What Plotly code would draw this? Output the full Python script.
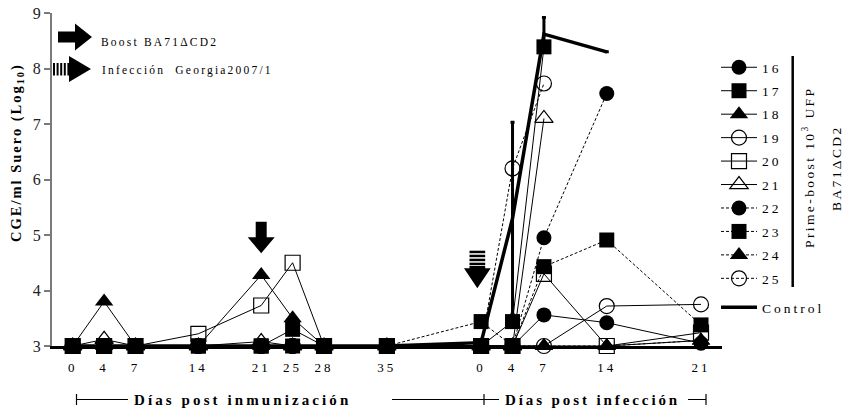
import plotly.graph_objects as go

# ---------------------------------------------------------------- data
# Sampling days of the immunisation phase and of the infection phase
days_immunization = [0, 4, 7, 14, 21, 25, 28, 35]
days_infection = [0, 4, 7, 14, 21]

# Slot of every sampling day on the broken time axis (axis layout)
slots_immunization = [0, 1, 2, 4, 6, 7, 8, 10]
slots_infection = [13, 14, 15, 17, 20]

animals = ["16", "17", "18", "19", "20", "21", "22", "23", "24", "25"]

# log10 genome copies / ml serum; immunisation days then infection days
v16 = [3, 3, 3, 3, 3, 3, 3, 3, 3, 3, 3.56, 3.42, 3.05]
v17 = [3, 3, 3, 3, 3, 3.3, 3, 3, 3, 3.44, 8.39, None, None]
v18 = [3, 3.8, 3, 3, 4.28, 3.5, 3, 3, 3, 3, 3, 3, 3.1]
v19 = [3, 3, 3, 3, 3, 3, 3, 3, 3, 3, 3, 3.72, 3.75]
v20 = [3, 3, 3, 3.22, 3.73, 4.5, 3, 3, 3, 3, 4.3, 3, 3.24]
v21 = [3, 3.12, 3, 3, 3.08, 3, 3, 3, 3, 3, 7.1, None, None]
v22 = [3, 3, 3, 3, 3, 3, 3, 3, 3, 3, 4.95, 7.55, None]
v23 = [3, 3, 3, 3, 3, 3, 3, 3, 3.44, 3, 4.43, 4.91, 3.38]
v24 = [3, 3, 3, 3, 3, 3, 3, 3, 3, 3, 3, 3, 3.1]
v25 = [3, 3, 3, 3, 3, 3, 3, 3, 3, 6.2, 7.73, None, None]
values = [v16, v17, v18, v19, v20, v21, v22, v23, v24, v25]

control_mean = [3, 3, 3, 3, 3, 3, 3, 3, 3.06, 5.3, 8.62, 8.3, None]
control_sd = [None, None, None, None, None, None, None, None, None, 1.73, 0.3, None, None]

# ---------------------------------------------------------------- styling
SERIF = "Liberation Serif"
symbols = ["circle", "square", "triangle-up", "circle-open", "square-open",
           "triangle-up-open", "circle", "square", "triangle-up", "circle-open"]
dashes = ["solid"] * 6 + ["3px,2px"] * 4

# plot area in pixels (used for decorations outside the data)
PL, PR, PT, PB = 52, 722, 13, 346


def px(x):
    return (x - PL) / (PR - PL)


def py(y):
    return (PB - y) / (PB - PT)


def spaced(text, ls):
    return f'<span style="letter-spacing:{ls}px">{text}</span>'


x_all = slots_immunization + slots_infection

fig = go.Figure()

for i, (name, vals) in enumerate(zip(animals, values)):
    sym = symbols[i]
    is_open = sym.endswith("open")
    size = 16 if sym.startswith("triangle") else 15
    fig.add_trace(go.Scatter(
        x=x_all, y=vals, name=spaced(name, 3), mode="lines+markers",
        legendgroup=name,
        line=dict(color="black", width=1, dash=dashes[i]),
        marker=dict(symbol=sym, size=size, color="black",
                    line=dict(color="black", width=1.2 if is_open else 0)),
        cliponaxis=False,
    ))

fig.add_trace(go.Scatter(
    x=x_all, y=control_mean, name=spaced("Control", 3), mode="lines",
    legend="legend2",
    line=dict(color="black", width=3.5),
    error_y=dict(type="data", array=control_sd, visible=True,
                 color="black", thickness=3, width=2),
    cliponaxis=False,
))

tick_vals = x_all
tick_text = [spaced(str(d), 3) for d in days_immunization + days_infection]

fig.update_layout(
    width=845, height=413,
    margin=dict(l=PL, r=845 - PR, t=PT, b=413 - PB, autoexpand=False),
    paper_bgcolor="white", plot_bgcolor="white",
    font=dict(family=SERIF, color="black"),
    showlegend=True,
    xaxis=dict(range=[-0.659, 20.668], showgrid=False, zeroline=False,
               showline=True, linecolor="black", linewidth=2.5,
               tickmode="array", tickvals=tick_vals, ticktext=tick_text,
               ticks="", ticklabelstandoff=8,
               tickfont=dict(family=SERIF, size=13, color="black")),
    yaxis=dict(range=[3, 9], showgrid=False, zeroline=False,
               showline=True, linecolor="#7a7a7a", linewidth=2,
               tickvals=[3, 4, 5, 6, 7, 8, 9], ticks="outside", ticklen=6,
               tickwidth=1.5, tickcolor="#7a7a7a",
               tickfont=dict(family=SERIF, size=16, color="#222")),
    legend=dict(x=px(716), y=py(52), xanchor="left", yanchor="top",
                font=dict(family=SERIF, size=13.5, color="black"),
                tracegroupgap=2.9, itemwidth=36, bgcolor="rgba(0,0,0,0)"),
    legend2=dict(x=px(716), y=py(292), xanchor="left", yanchor="top",
                 font=dict(family=SERIF, size=13.5, color="black"),
                 itemwidth=36, bgcolor="rgba(0,0,0,0)"),
)

shapes = []
annots = []


def label(x, y, text, size, ls, angle=0, xanchor="center", bold=False):
    annots.append(dict(
        x=px(x), y=py(y), xref="paper", yref="paper", textangle=angle,
        xanchor=xanchor, yanchor="middle", showarrow=False,
        text=spaced(text, ls),
        font=dict(family=SERIF, size=size, color="black",
                  weight="bold" if bold else "normal")))


# y-axis title
label(17, 153, "CGE/ml Suero (Log<sub>10</sub>)", 14.5, 2, angle=-90, bold=True)

# brackets below the time axis
yb = 399.5
for x0, x1 in [(76.5, 128), (392, 499), (688, 706)]:
    shapes.append(dict(type="line", xref="paper", yref="paper",
                       x0=px(x0), x1=px(x1), y0=py(yb), y1=py(yb),
                       line=dict(color="black", width=1)))
for xt in [76.5, 484, 706]:
    shapes.append(dict(type="line", xref="paper", yref="paper",
                       x0=px(xt), x1=px(xt), y0=py(yb - 5.5), y1=py(yb + 5.5),
                       line=dict(color="black", width=1.2)))
label(242, 400, "Días post inmunización", 15, 3.1, bold=True)
label(592, 400, "Días post infección", 15, 2.9, bold=True)

# key arrows at the top left
shapes.append(dict(type="path", xref="paper", yref="paper",
                   path=("M{},{} L{},{} L{},{} L{},{} L{},{} L{},{} L{},{} Z".format(
                       px(58), py(31.5), px(75), py(31.5), px(75), py(23.5),
                       px(92), py(37), px(75), py(50.5), px(75), py(42.5),
                       px(58), py(42.5))),
                   fillcolor="black", line=dict(width=0)))
for xs in [53, 56.6, 60.2, 63.8]:
    shapes.append(dict(type="rect", xref="paper", yref="paper",
                       x0=px(xs), x1=px(xs + 2), y0=py(63), y1=py(75.5),
                       fillcolor="black", line=dict(width=0)))
shapes.append(dict(type="path", xref="paper", yref="paper",
                   path=("M{},{} L{},{} L{},{} L{},{} L{},{} L{},{} L{},{} Z".format(
                       px(67.4), py(63), px(69), py(63), px(69), py(56),
                       px(91), py(69), px(69), py(82), px(69), py(75.5),
                       px(67.4), py(75.5))),
                   fillcolor="black", line=dict(width=0)))
label(99, 42, "Boost BA71ΔCD2", 11.5, 2.2, xanchor="left")
label(100, 71, "Infección  Georgia2007/1", 11.5, 2.2, xanchor="left")

# down arrows marking boost and challenge


def down_arrow(xc, top, neck, tip, bw, hw):
    return ("M{},{} L{},{} L{},{} L{},{} L{},{} L{},{} L{},{} Z".format(
        xc - bw, top, xc + bw, top, xc + bw, neck, xc + hw, neck,
        xc, tip, xc - hw, neck, xc - bw, neck))


boost_slot = slots_immunization[days_immunization.index(21)]
fig.add_shape(type="path", xref="x", yref="y",
              path=down_arrow(boost_slot, 5.24, 4.96, 4.67, 0.175, 0.43),
              fillcolor="black", line=dict(width=0))

chal = slots_infection[days_infection.index(0)] - 0.12
for top in [4.717, 4.645, 4.573, 4.501]:
    shapes.append(dict(type="rect", xref="x", yref="y",
                       x0=chal - 0.25, x1=chal + 0.25, y0=top - 0.045, y1=top,
                       fillcolor="black", line=dict(width=0)))
fig.add_shape(type="path", xref="x", yref="y",
              path=down_arrow(chal, 4.44, 4.40, 4.04, 0.25, 0.425),
              fillcolor="black", line=dict(width=0))

# group label next to the animal keys
shapes.append(dict(type="line", xref="paper", yref="paper",
                   x0=px(792.7), x1=px(792.7), y0=py(56), y1=py(287),
                   line=dict(color="black", width=2.5)))
label(809, 168, "Prime-boost 10<sup>3</sup> UFP", 13.5, 2.4, angle=-90)
label(837, 168, "BA71ΔCD2", 13.5, 2.4, angle=-90)

for s in shapes:
    fig.add_shape(**s)
fig.update_layout(annotations=annots)

fig.write_html("out.html")
